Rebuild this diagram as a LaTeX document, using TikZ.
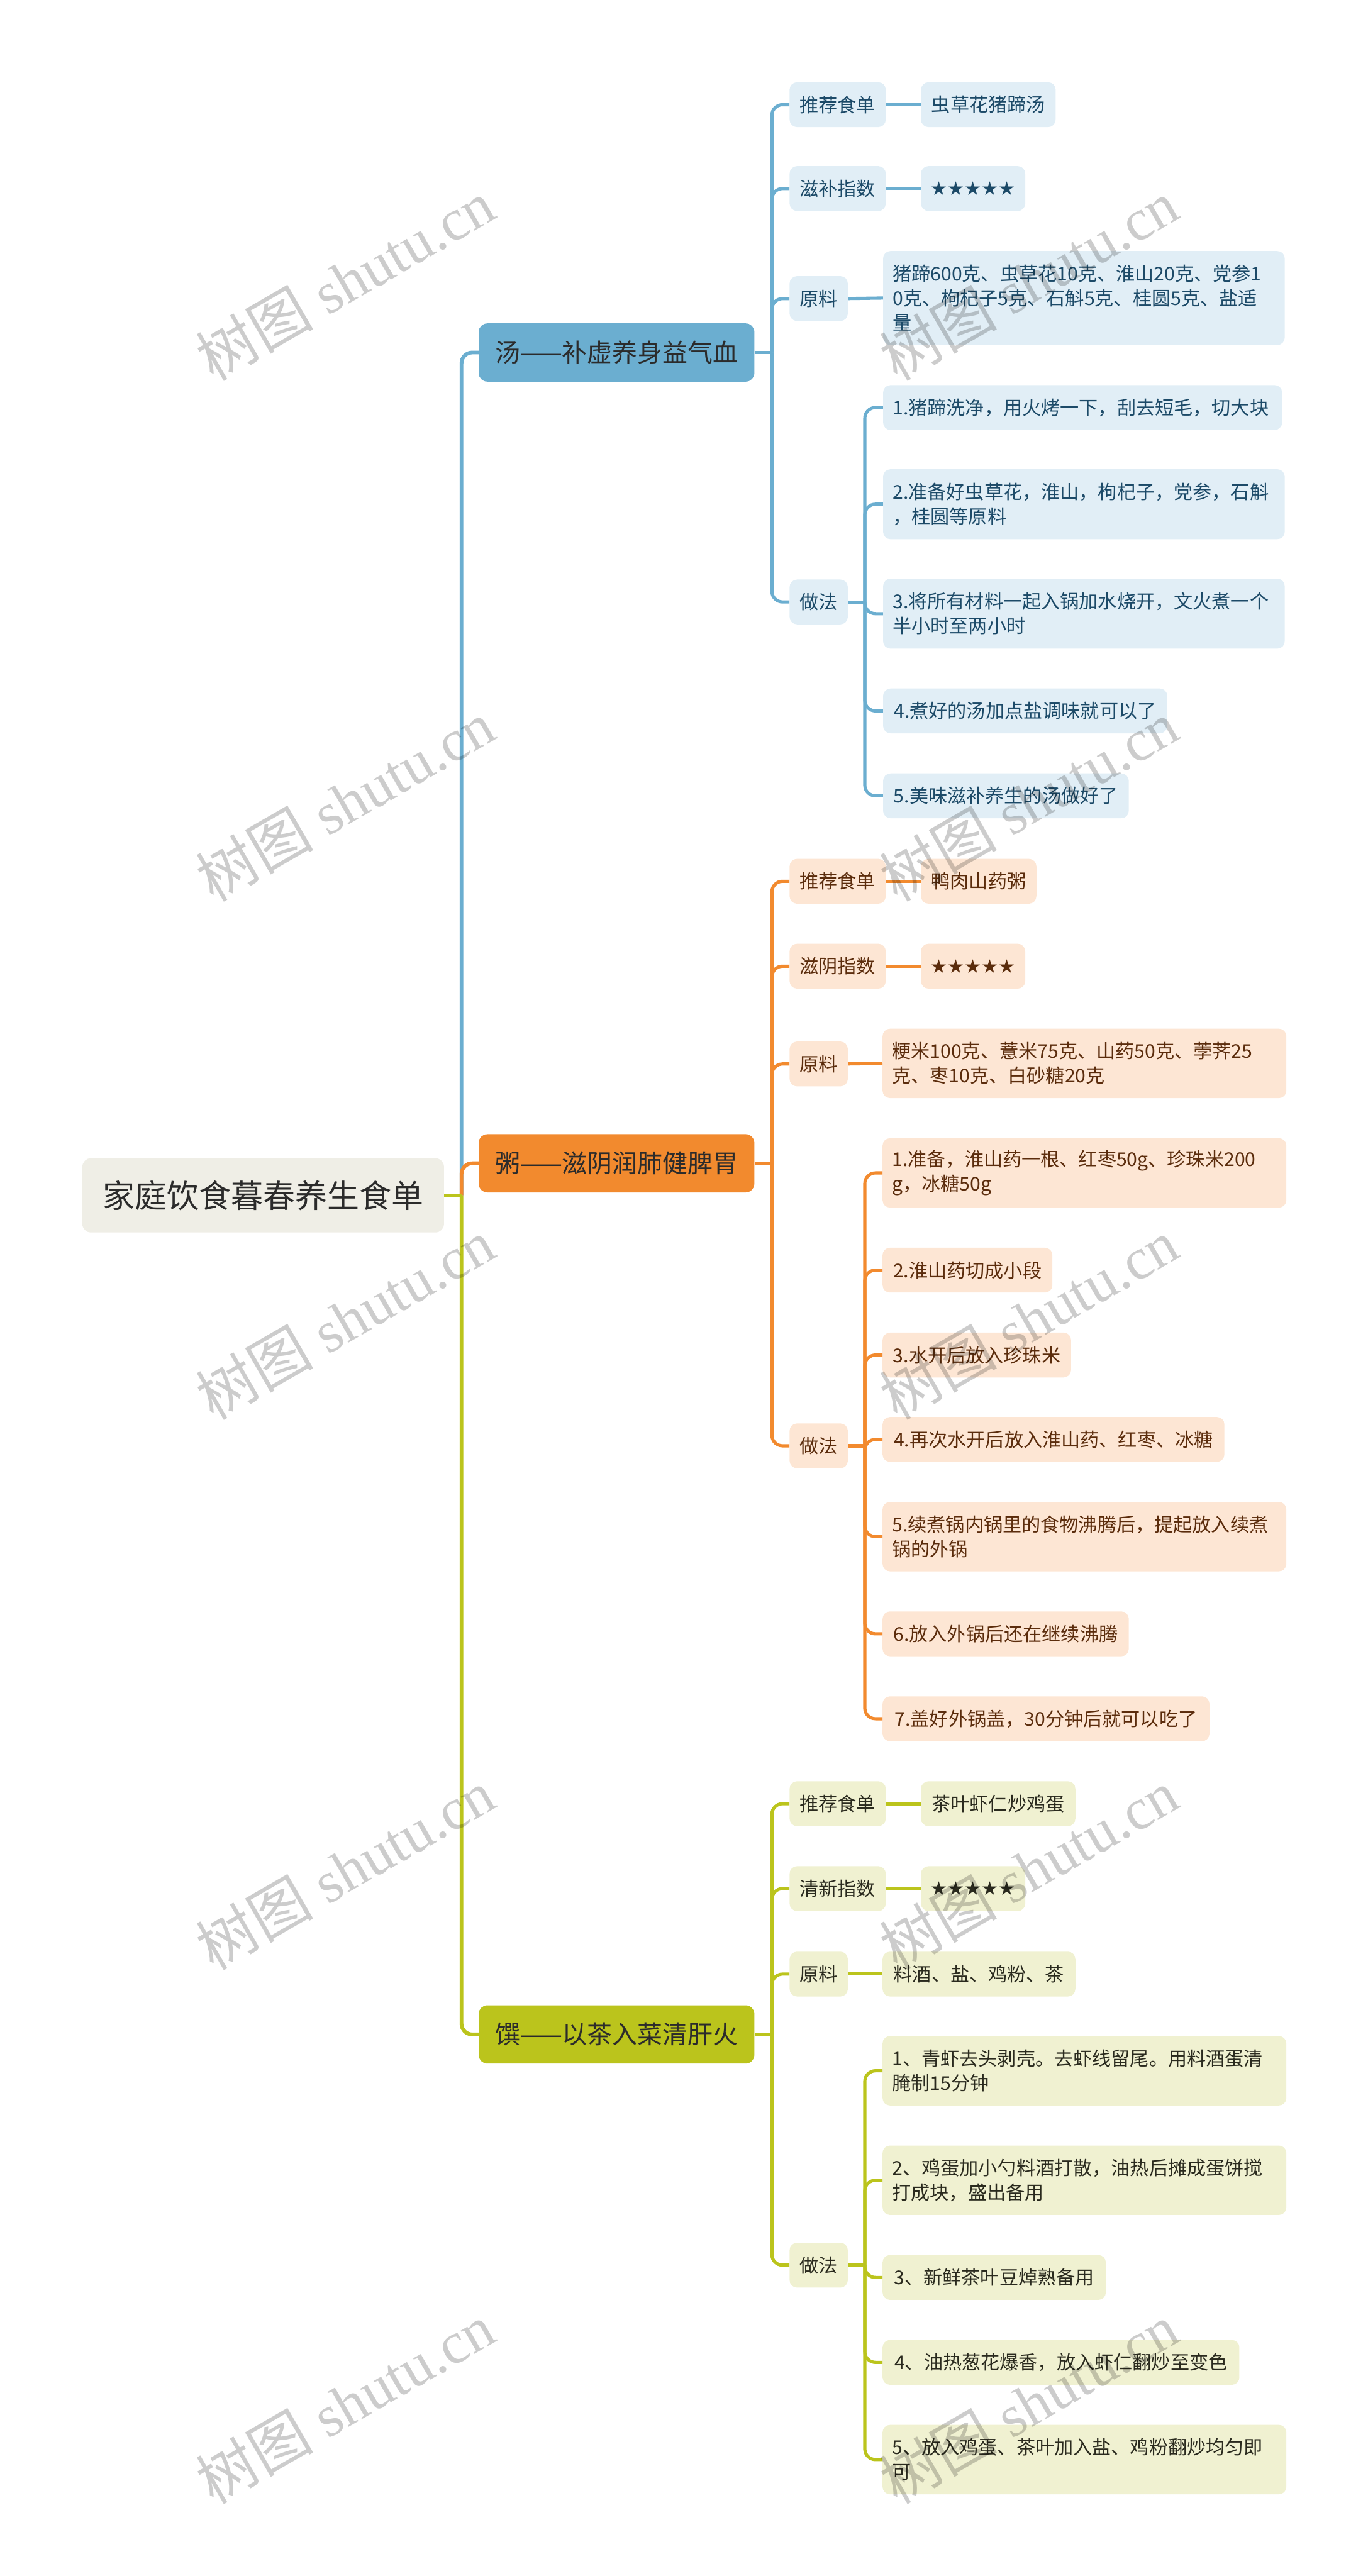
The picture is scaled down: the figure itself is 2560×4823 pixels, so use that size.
\documentclass[tikz,border=0pt]{standalone}
\usepackage{fontspec}
\newfontfamily\cjk{Noto Sans CJK SC}
\newfontfamily\wmlat{Liberation Serif}
\newfontfamily\starfont{DejaVu Sans}
\definecolor{bl}{HTML}{6BAED0}
\definecolor{blL}{HTML}{E1EEF6}
\definecolor{blT}{HTML}{1C4A68}
\definecolor{or}{HTML}{F28A2E}
\definecolor{orL}{HTML}{FDE6D4}
\definecolor{orT}{HTML}{5B2C0C}
\definecolor{gr}{HTML}{BBC41C}
\definecolor{grL}{HTML}{F0F1D1}
\definecolor{grT}{HTML}{2A2A1E}
\definecolor{rootF}{HTML}{EFEEE6}
\definecolor{dark}{HTML}{2B2B2B}
\begin{document}
\begin{tikzpicture}[x=1pt,y=-1pt,
  every node/.style={anchor=west, inner ysep=0pt, inner xsep=18pt,
    font=\cjk\fontsize{35.5}{46}\selectfont, rounded corners=14pt},
  rootbox/.style={fill=rootF, text=dark, minimum width=677, minimum height=139,
    font=\cjk\fontsize{60}{70}\selectfont, rounded corners=16pt},
  topic/.style={minimum width=516, minimum height=109,
    font=\cjk\fontsize{47}{56}\selectfont, text=dark, rounded corners=16pt},
  sz/.style 2 args={minimum width=#1, minimum height=#2},
  tw/.style 2 args={text width=#1, align=left, minimum height=#2},
  bB/.style={fill=blL, text=blT},
  bO/.style={fill=orL, text=orT},
  bG/.style={fill=grL, text=grT},
  cB/.style={draw=bl, line width=6pt, rounded corners=20pt},
  cO/.style={draw=or, line width=6pt, rounded corners=20pt},
  cG/.style={draw=gr, line width=6pt, rounded corners=20pt},
  wm/.style={anchor=center, rotate=30, text=black, text opacity=0.2,
    font=\wmlat\fontsize{110}{110}\selectfont}
]
\useasboundingbox (0,0) rectangle (2560,4823);

% root
\node[rootbox] (root) at (154,2238) {家庭饮食暮春养生食单};

% ---------- blue branch ----------
\node[topic, fill=bl] (b0) at (896,660) {汤——补虚养身益气血};
\node[bB, sz={180}{84}] (b1) at (1478,196) {推荐食单};
\node[bB, sz={252}{84}] (b1v) at (1724,196) {虫草花猪蹄汤};
\node[bB, sz={180}{84}] (b2) at (1478,353) {滋补指数};
\node[bB, sz={183}{84}] (b2v) at (1724,353) {\starfont ★★★★★};
\node[bB, sz={109}{84}] (b3) at (1478,559) {原料};
\node[bB, tw={716pt}{176}] (b3v) at (1653,558) {猪蹄600克、虫草花10克、淮山20克、党参1\\0克、枸杞子5克、石斛5克、桂圆5克、盐适\\量};
\node[bB, sz={109}{84}] (b4) at (1478,1127) {做法};
\node[bB, tw={711pt}{84}] (b4a) at (1653,763) {1.猪蹄洗净，用火烤一下，刮去短毛，切大块};
\node[bB, tw={716pt}{131}] (b4b) at (1653,944) {2.准备好虫草花，淮山，枸杞子，党参，石斛\\，桂圆等原料};
\node[bB, tw={716pt}{131}] (b4c) at (1653,1149) {3.将所有材料一起入锅加水烧开，文火煮一个\\半小时至两小时};
\node[bB, sz={532}{84}] (b4d) at (1653,1331) {4.煮好的汤加点盐调味就可以了};
\node[bB, sz={460}{84}] (b4e) at (1653,1490) {5.美味滋补养生的汤做好了};

% ---------- orange branch ----------
\node[topic, fill=or] (o0) at (896,2178) {粥——滋阴润肺健脾胃};
\node[bO, sz={180}{84}] (o1) at (1478,1650) {推荐食单};
\node[bO, sz={216}{84}] (o1v) at (1724,1650) {鸭肉山药粥};
\node[bO, sz={180}{84}] (o2) at (1478,1809) {滋阴指数};
\node[bO, sz={184}{84}] (o2v) at (1724,1809) {\starfont ★★★★★};
\node[bO, sz={109}{84}] (o3) at (1478,1992) {原料};
\node[bO, tw={720pt}{130}] (o3v) at (1652,1991) {粳米100克、薏米75克、山药50克、荸荠25\\克、枣10克、白砂糖20克};
\node[bO, sz={109}{84}] (o4) at (1478,2707) {做法};
\node[bO, tw={720pt}{130}] (o4a) at (1652,2196) {1.准备，淮山药一根、红枣50g、珍珠米200\\g，冰糖50g};
\node[bO, sz={318}{84}] (o4b) at (1652,2378) {2.淮山药切成小段};
\node[bO, sz={353}{84}] (o4c) at (1652,2537) {3.水开后放入珍珠米};
\node[bO, sz={640}{84}] (o4d) at (1652,2695) {4.再次水开后放入淮山药、红枣、冰糖};
\node[bO, tw={720pt}{130}] (o4e) at (1652,2877) {5.续煮锅内锅里的食物沸腾后，提起放入续煮\\锅的外锅};
\node[bO, sz={461}{84}] (o4f) at (1652,3059) {6.放入外锅后还在继续沸腾};
\node[bO, sz={612}{84}] (o4g) at (1652,3218) {7.盖好外锅盖，30分钟后就可以吃了};

% ---------- green branch ----------
\node[topic, fill=gr] (g0) at (896,3809) {馔——以茶入菜清肝火};
\node[bG, sz={180}{84}] (g1) at (1478,3377) {推荐食单};
\node[bG, sz={289}{84}] (g1v) at (1724,3377) {茶叶虾仁炒鸡蛋};
\node[bG, sz={180}{84}] (g2) at (1478,3536) {清新指数};
\node[bG, sz={184}{84}] (g2v) at (1724,3536) {\starfont ★★★★★};
\node[bG, sz={109}{84}] (g3) at (1478,3696) {原料};
\node[bG, sz={361}{84}] (g3v) at (1652,3696) {料酒、盐、鸡粉、茶};
\node[bG, sz={109}{84}] (g4) at (1478,4241) {做法};
\node[bG, tw={720pt}{130}] (g4a) at (1652,3877) {1、青虾去头剥壳。去虾线留尾。用料酒蛋清\\腌制15分钟};
\node[bG, tw={720pt}{130}] (g4b) at (1652,4082) {2、鸡蛋加小勺料酒打散，油热后摊成蛋饼搅\\打成块，盛出备用};
\node[bG, sz={418}{84}] (g4c) at (1652,4264) {3、新鲜茶叶豆焯熟备用};
\node[bG, sz={668}{84}] (g4d) at (1652,4423) {4、油热葱花爆香，放入虾仁翻炒至变色};
\node[bG, tw={720pt}{130}] (g4e) at (1652,4605) {5、放入鸡蛋、茶叶加入盐、鸡粉翻炒均匀即\\可};

% ---------- connectors ----------
\coordinate (hub) at (864,2238);
\draw[cB, line width=7pt] (hub) |- (b0.west);
\draw[cO, line width=7pt] (hub) |- (o0.west);
\draw[cG, line width=7pt] (hub) |- (g0.west);
\draw[cG, line width=7pt] (root.east) -- (hub);

% blue
\coordinate (bh) at (1445,660);
\draw[cB] (b0.east) -- (bh);
\foreach \n in {b1,b2,b3,b4} \draw[cB] (bh) |- (\n.west);
\draw[cB] (b1.east) -- (b1v.west);
\draw[cB] (b2.east) -- (b2v.west);
\draw[cB] (b3.east) -- (b3v.west);
\coordinate (bh4) at (1619,1127);
\draw[cB] (b4.east) -- (bh4);
\foreach \n in {b4a,b4b,b4c,b4d,b4e} \draw[cB] (bh4) |- (\n.west);

% orange
\coordinate (oh) at (1445,2178);
\draw[cO] (o0.east) -- (oh);
\foreach \n in {o1,o2,o3,o4} \draw[cO] (oh) |- (\n.west);
\draw[cO] (o1.east) -- (o1v.west);
\draw[cO] (o2.east) -- (o2v.west);
\draw[cO] (o3.east) -- (o3v.west);
\coordinate (oh4) at (1619,2707);
\draw[cO] (o4.east) -- (oh4);
\foreach \n in {o4a,o4b,o4c,o4d,o4e,o4f,o4g} \draw[cO] (oh4) |- (\n.west);

% green
\coordinate (gh) at (1445,3809);
\draw[cG] (g0.east) -- (gh);
\foreach \n in {g1,g2,g3,g4} \draw[cG] (gh) |- (\n.west);
\draw[cG] (g1.east) -- (g1v.west);
\draw[cG] (g2.east) -- (g2v.west);
\draw[cG] (g3.east) -- (g3v.west);
\coordinate (gh4) at (1619,4241);
\draw[cG] (g4.east) -- (gh4);
\foreach \n in {g4a,g4b,g4c,g4d,g4e} \draw[cG] (gh4) |- (\n.west);

% ---------- watermarks ----------
\foreach \wy in {525,1500,2470,3500,4500} {
  \node[wm] (wmL\wy) at (646,\wy) {{\cjk 树图} shutu.cn};
  \node[wm] (wmR\wy) at (1926,\wy) {{\cjk 树图} shutu.cn};
}
\end{tikzpicture}
\end{document}
